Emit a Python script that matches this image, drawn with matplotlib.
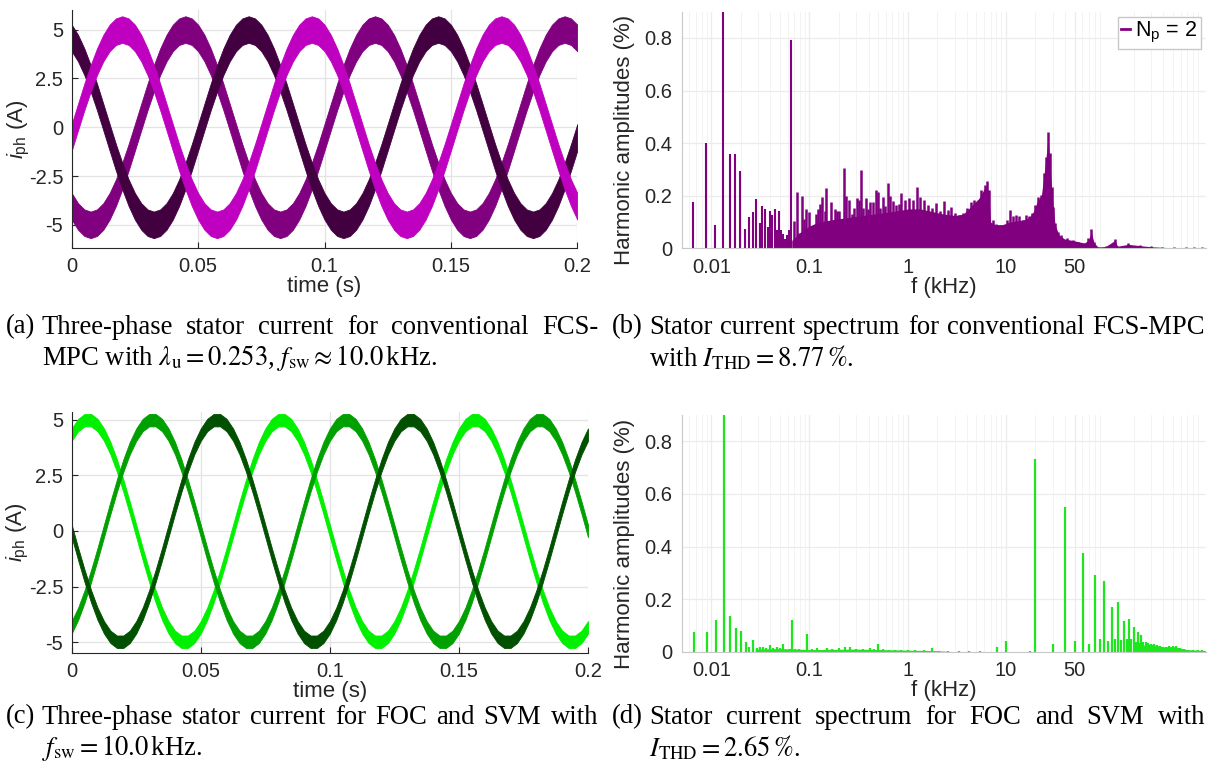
import numpy as np
import matplotlib
matplotlib.use("Agg")
import matplotlib.pyplot as plt
from matplotlib.lines import Line2D

plt.rcParams['font.family'] = ['Liberation Sans', 'DejaVu Sans']
plt.rcParams['mathtext.fontset'] = 'custom'
plt.rcParams['mathtext.rm'] = 'Liberation Sans'
plt.rcParams['mathtext.it'] = 'Liberation Sans:italic'

# ---------------- data ----------------
t = np.linspace(0, 0.2, 81)  # s, 2.5 ms steps

# FCS-MPC phase currents (A), centre of the noisy band
mpc_dark = [4.57, 4.05, 3.35, 2.5, 1.55, 0.52, -0.52, -1.55, -2.5, -3.35, -4.05, -4.57, -4.89, -5.0, -4.89,
            -4.57, -4.05, -3.35, -2.5, -1.55, -0.52, 0.52, 1.55, 2.5, 3.35, 4.05, 4.57, 4.89, 5.0, 4.89,
            4.57, 4.05, 3.35, 2.5, 1.55, 0.52, -0.52, -1.55, -2.5, -3.35, -4.05, -4.57, -4.89, -5.0, -4.89,
            -4.57, -4.05, -3.35, -2.5, -1.55, -0.52, 0.52, 1.55, 2.5, 3.35, 4.05, 4.57, 4.89, 5.0, 4.89,
            4.57, 4.05, 3.35, 2.5, 1.55, 0.52, -0.52, -1.55, -2.5, -3.35, -4.05, -4.57, -4.89, -5.0, -4.89,
            -4.57, -4.05, -3.35, -2.5, -1.55, -0.52]
mpc_purple = [-4.05, -4.57, -4.89, -5.0, -4.89, -4.57, -4.05, -3.35, -2.5, -1.55, -0.52, 0.52, 1.55, 2.5, 3.35,
              4.05, 4.57, 4.89, 5.0, 4.89, 4.57, 4.05, 3.35, 2.5, 1.55, 0.52, -0.52, -1.55, -2.5, -3.35,
              -4.05, -4.57, -4.89, -5.0, -4.89, -4.57, -4.05, -3.35, -2.5, -1.55, -0.52, 0.52, 1.55, 2.5, 3.35,
              4.05, 4.57, 4.89, 5.0, 4.89, 4.57, 4.05, 3.35, 2.5, 1.55, 0.52, -0.52, -1.55, -2.5, -3.35,
              -4.05, -4.57, -4.89, -5.0, -4.89, -4.57, -4.05, -3.35, -2.5, -1.55, -0.52, 0.52, 1.55, 2.5, 3.35,
              4.05, 4.57, 4.89, 5.0, 4.89, 4.57]
mpc_magenta = [-0.52, 0.52, 1.55, 2.5, 3.35, 4.05, 4.57, 4.89, 5.0, 4.89, 4.57, 4.05, 3.35, 2.5, 1.55,
               0.52, -0.52, -1.55, -2.5, -3.35, -4.05, -4.57, -4.89, -5.0, -4.89, -4.57, -4.05, -3.35, -2.5, -1.55,
               -0.52, 0.52, 1.55, 2.5, 3.35, 4.05, 4.57, 4.89, 5.0, 4.89, 4.57, 4.05, 3.35, 2.5, 1.55,
               0.52, -0.52, -1.55, -2.5, -3.35, -4.05, -4.57, -4.89, -5.0, -4.89, -4.57, -4.05, -3.35, -2.5, -1.55,
               -0.52, 0.52, 1.55, 2.5, 3.35, 4.05, 4.57, 4.89, 5.0, 4.89, 4.57, 4.05, 3.35, 2.5, 1.55,
               0.52, -0.52, -1.55, -2.5, -3.35, -4.05]
mpc_band = 0.68  # half width of the ripple band

# FOC + SVM phase currents (A)
foc_light = [4.33, 4.76, 4.98, 4.98, 4.76, 4.33, 3.72, 2.94, 2.03, 1.04, 0.0, -1.04, -2.03, -2.94, -3.72,
             -4.33, -4.76, -4.98, -4.98, -4.76, -4.33, -3.72, -2.94, -2.03, -1.04, 0.0, 1.04, 2.03, 2.94, 3.72,
             4.33, 4.76, 4.98, 4.98, 4.76, 4.33, 3.72, 2.94, 2.03, 1.04, 0.0, -1.04, -2.03, -2.94, -3.72,
             -4.33, -4.76, -4.98, -4.98, -4.76, -4.33, -3.72, -2.94, -2.03, -1.04, 0.0, 1.04, 2.03, 2.94, 3.72,
             4.33, 4.76, 4.98, 4.98, 4.76, 4.33, 3.72, 2.94, 2.03, 1.04, 0.0, -1.04, -2.03, -2.94, -3.72,
             -4.33, -4.76, -4.98, -4.98, -4.76, -4.33]
foc_mid = [-4.33, -3.72, -2.94, -2.03, -1.04, 0.0, 1.04, 2.03, 2.94, 3.72, 4.33, 4.76, 4.98, 4.98, 4.76,
           4.33, 3.72, 2.94, 2.03, 1.04, 0.0, -1.04, -2.03, -2.94, -3.72, -4.33, -4.76, -4.98, -4.98, -4.76,
           -4.33, -3.72, -2.94, -2.03, -1.04, 0.0, 1.04, 2.03, 2.94, 3.72, 4.33, 4.76, 4.98, 4.98, 4.76,
           4.33, 3.72, 2.94, 2.03, 1.04, 0.0, -1.04, -2.03, -2.94, -3.72, -4.33, -4.76, -4.98, -4.98, -4.76,
           -4.33, -3.72, -2.94, -2.03, -1.04, 0.0, 1.04, 2.03, 2.94, 3.72, 4.33, 4.76, 4.98, 4.98, 4.76,
           4.33, 3.72, 2.94, 2.03, 1.04, 0.0]
foc_dark = [0.0, -1.04, -2.03, -2.94, -3.72, -4.33, -4.76, -4.98, -4.98, -4.76, -4.33, -3.72, -2.94, -2.03, -1.04,
            0.0, 1.04, 2.03, 2.94, 3.72, 4.33, 4.76, 4.98, 4.98, 4.76, 4.33, 3.72, 2.94, 2.03, 1.04,
            0.0, -1.04, -2.03, -2.94, -3.72, -4.33, -4.76, -4.98, -4.98, -4.76, -4.33, -3.72, -2.94, -2.03, -1.04,
            0.0, 1.04, 2.03, 2.94, 3.72, 4.33, 4.76, 4.98, 4.98, 4.76, 4.33, 3.72, 2.94, 2.03, 1.04,
            0.0, -1.04, -2.03, -2.94, -3.72, -4.33, -4.76, -4.98, -4.98, -4.76, -4.33, -3.72, -2.94, -2.03, -1.04,
            0.0, 1.04, 2.03, 2.94, 3.72, 4.33]
foc_band = 0.28

# FCS-MPC spectrum (kHz, %)
mpc_stem_f = [0.00658, 0.00879, 0.01094, 0.0132, 0.0154, 0.0175, 0.0196, 0.0219, 0.0241, 0.0265, 0.0286,
              0.031, 0.033, 0.0353, 0.0379, 0.0397, 0.042, 0.0443, 0.0468, 0.049, 0.0518, 0.0538, 0.0565,
              0.059, 0.0615, 0.0656]
mpc_stem_a = [0.175, 0.40, 0.089, 0.95, 0.359, 0.359, 0.293, 0.075, 0.118, 0.138, 0.187,
              0.096, 0.161, 0.15, 0.082, 0.143, 0.127, 0.148, 0.07, 0.143, 0.07, 0.055, 0.035,
              0.05, 0.07, 0.794]
mpc_peak_f = [0.0697, 0.0748, 0.0784, 0.0835, 0.0875, 0.0931, 0.0984, 0.1038, 0.1089, 0.1159, 0.1224, 0.1294,
              0.1356, 0.1432, 0.1489, 0.1585, 0.1675, 0.181, 0.191, 0.2004, 0.2133, 0.225, 0.2382, 0.253,
              0.2698, 0.2847, 0.3013, 0.32, 0.3327, 0.3516, 0.374, 0.3954, 0.4178, 0.4446, 0.4732, 0.5,
              0.5284, 0.5623, 0.5943, 0.631, 0.668, 0.7103, 0.769, 0.811, 0.849, 0.931, 1.02, 1.12, 1.25,
              1.34, 1.47, 1.61, 1.77, 1.94, 2.12, 2.33, 2.55, 2.79, 3.06, 3.36, 3.68, 4.03, 4.42, 4.75,
              5.07, 5.56, 6.09, 6.37, 6.79, 7.31, 8.01, 8.79, 9.62, 10.26, 11.04, 11.88, 12.79, 13.75,
              14.8, 15.93, 17.13, 18.44, 19.85, 21.35, 22.96, 24.27, 25.65, 26.85, 28.1, 29.17, 30.27,
              31.65, 33.74, 36.3, 41.7, 47.8, 54.8, 62.9, 68.9, 74.2, 78.4, 86.7, 104.0, 121.6, 128.6,
              134.6, 177.0, 233.0, 299.0, 393.0, 517.0, 681.0, 817.0, 981.0]
mpc_peak_a = [0.105, 0.214, 0.06, 0.2, 0.11, 0.15, 0.138, 0.06, 0.08, 0.13, 0.15, 0.17,
              0.194, 0.14, 0.23, 0.105, 0.175, 0.15, 0.14, 0.14, 0.06, 0.305, 0.2, 0.184,
              0.13, 0.155, 0.19, 0.185, 0.298, 0.155, 0.19, 0.15, 0.175, 0.178, 0.22, 0.215,
              0.155, 0.195, 0.16, 0.248, 0.2, 0.18, 0.165, 0.17, 0.21, 0.184, 0.19, 0.184, 0.235,
              0.197, 0.184, 0.165, 0.152, 0.171, 0.14, 0.179, 0.146, 0.159, 0.133, 0.127, 0.133, 0.152, 0.178, 0.184,
              0.165, 0.222, 0.241, 0.257, 0.222, 0.108, 0.093, 0.089, 0.083, 0.108, 0.146, 0.121, 0.127, 0.121,
              0.108, 0.127, 0.121, 0.133, 0.165, 0.197, 0.203, 0.286, 0.349, 0.442, 0.362, 0.235, 0.159,
              0.095, 0.063, 0.051, 0.038, 0.032, 0.025, 0.019, 0.038, 0.072, 0.025, 0.004, 0.01, 0.013, 0.036,
              0.009, 0.022, 0.013, 0.01, 0.006, 0.006, 0.005, 0.005, 0.006]
mpc_body_f = [0.066, 0.08, 0.1, 0.124, 0.179, 0.283, 0.448, 0.708, 1.02, 1.34, 1.77, 2.33, 3.06, 3.68, 4.42,
              5.31, 6.09, 6.67, 6.98, 7.65, 9.19, 11.04, 13.27, 15.93, 17.46, 19.14, 20.96, 22.96, 25.2,
              26.85, 28.1, 29.7, 31.65, 34.7, 39.8, 47.8, 62.9, 68.9, 74.2, 79.1, 86.7, 104.0, 128.6, 137.0,
              177.0, 233.0, 299.0, 431.0, 681.0, 1076.0]
mpc_body_a = [0.03, 0.06, 0.085, 0.1, 0.11, 0.12, 0.13, 0.14, 0.15, 0.15, 0.14, 0.13, 0.125, 0.13, 0.16,
              0.19, 0.23, 0.22, 0.1, 0.09, 0.09, 0.1, 0.105, 0.11, 0.12, 0.14, 0.18, 0.2, 0.32,
              0.42, 0.32, 0.19, 0.09, 0.05, 0.035, 0.03, 0.02, 0.03, 0.06, 0.02, 0.005, 0.007, 0.03, 0.008,
              0.015, 0.01, 0.006, 0.003, 0.003, 0.003]

# FOC + SVM spectrum (kHz, %)
foc_stem_f = [0.00668, 0.00896, 0.01116, 0.0135, 0.01552, 0.0178, 0.02, 0.0224, 0.0245, 0.0269, 0.0295,
              0.0317, 0.0338, 0.0364, 0.04, 0.043, 0.047, 0.05, 0.054, 0.06, 0.063, 0.0671, 0.072, 0.078,
              0.084, 0.0944, 0.105, 0.12, 0.135, 0.15, 0.17, 0.198, 0.23, 0.258, 0.3, 0.35, 0.41, 0.45,
              0.504, 0.56, 0.65, 0.75, 0.85, 1.0, 1.2, 1.45, 1.77, 2.1, 2.6, 3.3, 4.2, 5.5, 8.09, 10.07,
              17.5, 20.0, 30.2, 39.8, 50.3, 60.7, 69.8, 80.5, 91.0, 100.4, 110.6, 120.0, 130.0, 140.0,
              150.0, 160.0, 170.0, 180.0, 190.0, 200.0, 210.0, 220.0, 230.0, 240.0, 250.0, 265.0, 280.0,
              300.0, 320.0, 345.0, 370.0, 400.0, 430.0, 460.0, 500.0, 540.0, 590.0, 650.0, 720.0, 800.0,
              900.0, 1000.0]
foc_stem_a = [0.074, 0.076, 0.122, 0.95, 0.135, 0.09, 0.079, 0.036, 0.018, 0.043, 0.015,
              0.016, 0.019, 0.013, 0.025, 0.014, 0.017, 0.015, 0.03, 0.008, 0.01, 0.122, 0.012, 0.01,
              0.008, 0.066, 0.01, 0.015, 0.008, 0.013, 0.01, 0.015, 0.018, 0.016, 0.01, 0.012, 0.015, 0.01,
              0.028, 0.01, 0.008, 0.007, 0.006, 0.006, 0.005, 0.005, 0.015, 0.004, 0.003, 0.002, 0.002, 0.002,
              0.017, 0.042, 0.002, 0.733, 0.028, 0.549, 0.042, 0.375, 0.028, 0.292, 0.048, 0.267, 0.041,
              0.169, 0.048, 0.19, 0.044, 0.117, 0.047, 0.124, 0.05, 0.093, 0.038, 0.074, 0.032, 0.062,
              0.038, 0.035, 0.033, 0.03, 0.028, 0.025, 0.02, 0.016, 0.018, 0.02, 0.022, 0.02, 0.015,
              0.01, 0.008, 0.006, 0.006, 0.005]
foc_body_f = [0.028, 0.05, 0.1, 0.3, 1.0, 2.0, 3.0, 230.0, 260.0, 300.0, 400.0, 500.0, 700.0, 1000.0, 1076.0]
foc_body_a = [0.01, 0.012, 0.008, 0.01, 0.006, 0.004, 0.0, 0.0, 0.03, 0.028, 0.018, 0.02, 0.008, 0.005, 0.004]

# ---------------- figure ----------------
W, H = 1211, 776
fig = plt.figure(figsize=(W / 100, H / 100), dpi=100)
txt = '#262626'


def rect(x0, x1, y0, y1):
    return [x0 / W, 1 - y1 / H, (x1 - x0) / W, (y1 - y0) / H]


def time_axes(r, ylim):
    ax = fig.add_axes(r)
    ax.set_xlim(0, 0.2)
    ax.set_ylim(*ylim)
    ax.set_xticks([0, 0.05, 0.1, 0.15, 0.2])
    ax.set_xticklabels(['0', '0.05', '0.1', '0.15', '0.2'])
    ax.set_yticks([-5, -2.5, 0, 2.5, 5])
    ax.set_yticklabels(['-5', '-2.5', '0', '2.5', '5'])
    ax.grid(True, color='#e3e3e3', lw=0.9)
    ax.set_axisbelow(True)
    for s in ['top', 'right']:
        ax.spines[s].set_visible(False)
    for s in ['left', 'bottom']:
        ax.spines[s].set_color(txt)
        ax.spines[s].set_linewidth(0.8)
    ax.tick_params(direction='in', length=4, width=0.8, colors=txt, labelsize=14.5, pad=6)
    ax.set_xlabel('time (s)', fontsize=16, color=txt, labelpad=0)
    ax.set_ylabel(r'$i_\mathrm{ph}$ (A)', fontsize=16, color=txt)
    ax.yaxis.set_label_coords(-0.078, 0.5)
    return ax


def spec_axes(r):
    ax = fig.add_axes(r)
    ax.set_xscale('log')
    ax.set_xlim(0.005, 1090)
    ax.set_ylim(0, 0.9)
    ax.set_xticks([0.01, 0.1, 1, 10, 50])
    ax.set_xticklabels(['0.01', '0.1', '1', '10', '50'])
    ax.set_yticks([0, 0.2, 0.4, 0.6, 0.8])
    ax.set_yticklabels(['0', '0.2', '0.4', '0.6', '0.8'])
    ax.minorticks_on()
    ax.grid(True, which='major', color='#ececec', lw=0.9)
    ax.grid(True, which='minor', axis='x', color='#f3f3f3', lw=0.7)
    ax.set_axisbelow(True)
    for s in ['top', 'right']:
        ax.spines[s].set_visible(False)
    for s in ['left', 'bottom']:
        ax.spines[s].set_color('#c8c8c8')
        ax.spines[s].set_linewidth(0.8)
    ax.tick_params(which='both', length=0, colors=txt, labelsize=14.5, pad=7)
    ax.tick_params(which='minor', labelbottom=False, labelleft=False)
    ax.set_xlabel('f (kHz)', fontsize=16, color=txt, labelpad=0)
    ax.set_ylabel('Harmonic amplitudes (%)', fontsize=16, color=txt)
    ax.yaxis.set_label_coords(-0.089, 0.457)
    return ax


# (a) FCS-MPC currents
ax1 = time_axes(rect(71.7, 577.3, 10, 248.3), (-6.2, 6.0))
for y, c in [(mpc_purple, '#800080'), (mpc_dark, '#420040'), (mpc_magenta, '#c000c0')]:
    y = np.array(y)
    ax1.fill_between(t, y - mpc_band, y + mpc_band, color=c, lw=0.6, edgecolor=c)

# (b) FCS-MPC spectrum
ax2 = spec_axes(rect(681.7, 1206, 11.7, 248.3))
ax2.fill_between(mpc_body_f, 0, mpc_body_a, color='#800080', lw=0)
ax2.vlines(mpc_peak_f, 0, mpc_peak_a, colors='#800080', lw=1.8)
ax2.vlines(mpc_stem_f, 0, mpc_stem_a, colors='#800080', lw=1.5)
leg = ax2.legend(handles=[Line2D([0], [0], color='#800080', lw=2)], labels=[r'N$_\mathrm{p}$ = 2'],
                 loc='upper right', fontsize=15.5, handlelength=0.4, handletextpad=0.25,
                 borderpad=0.15, borderaxespad=0.25, fancybox=False, framealpha=1, edgecolor='#c8c8c8')
for tx in leg.get_texts():
    tx.set_color('black')

# (c) FOC currents
ax3 = time_axes(rect(71.7, 588, 411.7, 653.3), (-5.5, 5.36))
for y, c in [(foc_light, '#00f000'), (foc_mid, '#00a000'), (foc_dark, '#005000')]:
    y = np.array(y)
    ax3.fill_between(t, y - foc_band, y + foc_band, color=c, lw=0.6, edgecolor=c)

# (d) FOC spectrum
ax4 = spec_axes(rect(681.7, 1206, 415, 651.7))
ax4.fill_between(foc_body_f, 0, foc_body_a, color='#1ee61e', lw=0)
ax4.vlines(foc_stem_f, 0, foc_stem_a, colors='#1ee61e', lw=1.6)

# ---------------- captions ----------------
cap = dict(fontsize=19.2, family='Liberation Serif', math_fontfamily='stix', color='black', va='center')
renderer = fig.canvas.get_renderer()


def justified(label, words, x0, x1, y):
    # label keeps a normal space, the remaining words are spread to the right edge
    lab = fig.text(x0 / W, 1 - y / H, label, **cap)
    xs = x0 + lab.get_window_extent(renderer).width + 6.5
    objs = [fig.text(0, 1 - y / H, w, **cap) for w in words]
    widths = [o.get_window_extent(renderer).width for o in objs]
    gap = (x1 - xs - sum(widths)) / (len(words) - 1)
    x = xs
    for o, w in zip(objs, widths):
        o.set_x(x / W)
        x += w + gap
    return xs


xa = justified('(a)', ['Three-phase', 'stator', 'current', 'for', 'conventional', 'FCS-'], 6, 598, 327)
fig.text(xa / W, 1 - 358 / H, r'MPC with $\lambda_\mathrm{u}=0.253$, $f_\mathrm{sw}\approx 10.0\,$kHz.', **cap)
xb = justified('(b)', ['Stator', 'current', 'spectrum', 'for', 'conventional', 'FCS-MPC'], 612, 1205, 327)
fig.text(xb / W, 1 - 358 / H, r'with $I_\mathrm{THD}=8.77\,\%$.', **cap)
xc = justified('(c)', ['Three-phase', 'stator', 'current', 'for', 'FOC', 'and', 'SVM', 'with'], 6, 598, 717)
fig.text(xc / W, 1 - 748 / H, r'$f_\mathrm{sw}=10.0\,$kHz.', **cap)
xd = justified('(d)', ['Stator', 'current', 'spectrum', 'for', 'FOC', 'and', 'SVM', 'with'], 612, 1205, 717)
fig.text(xd / W, 1 - 748 / H, r'$I_\mathrm{THD}=2.65\,\%$.', **cap)

fig.savefig('out.png', dpi=100)
